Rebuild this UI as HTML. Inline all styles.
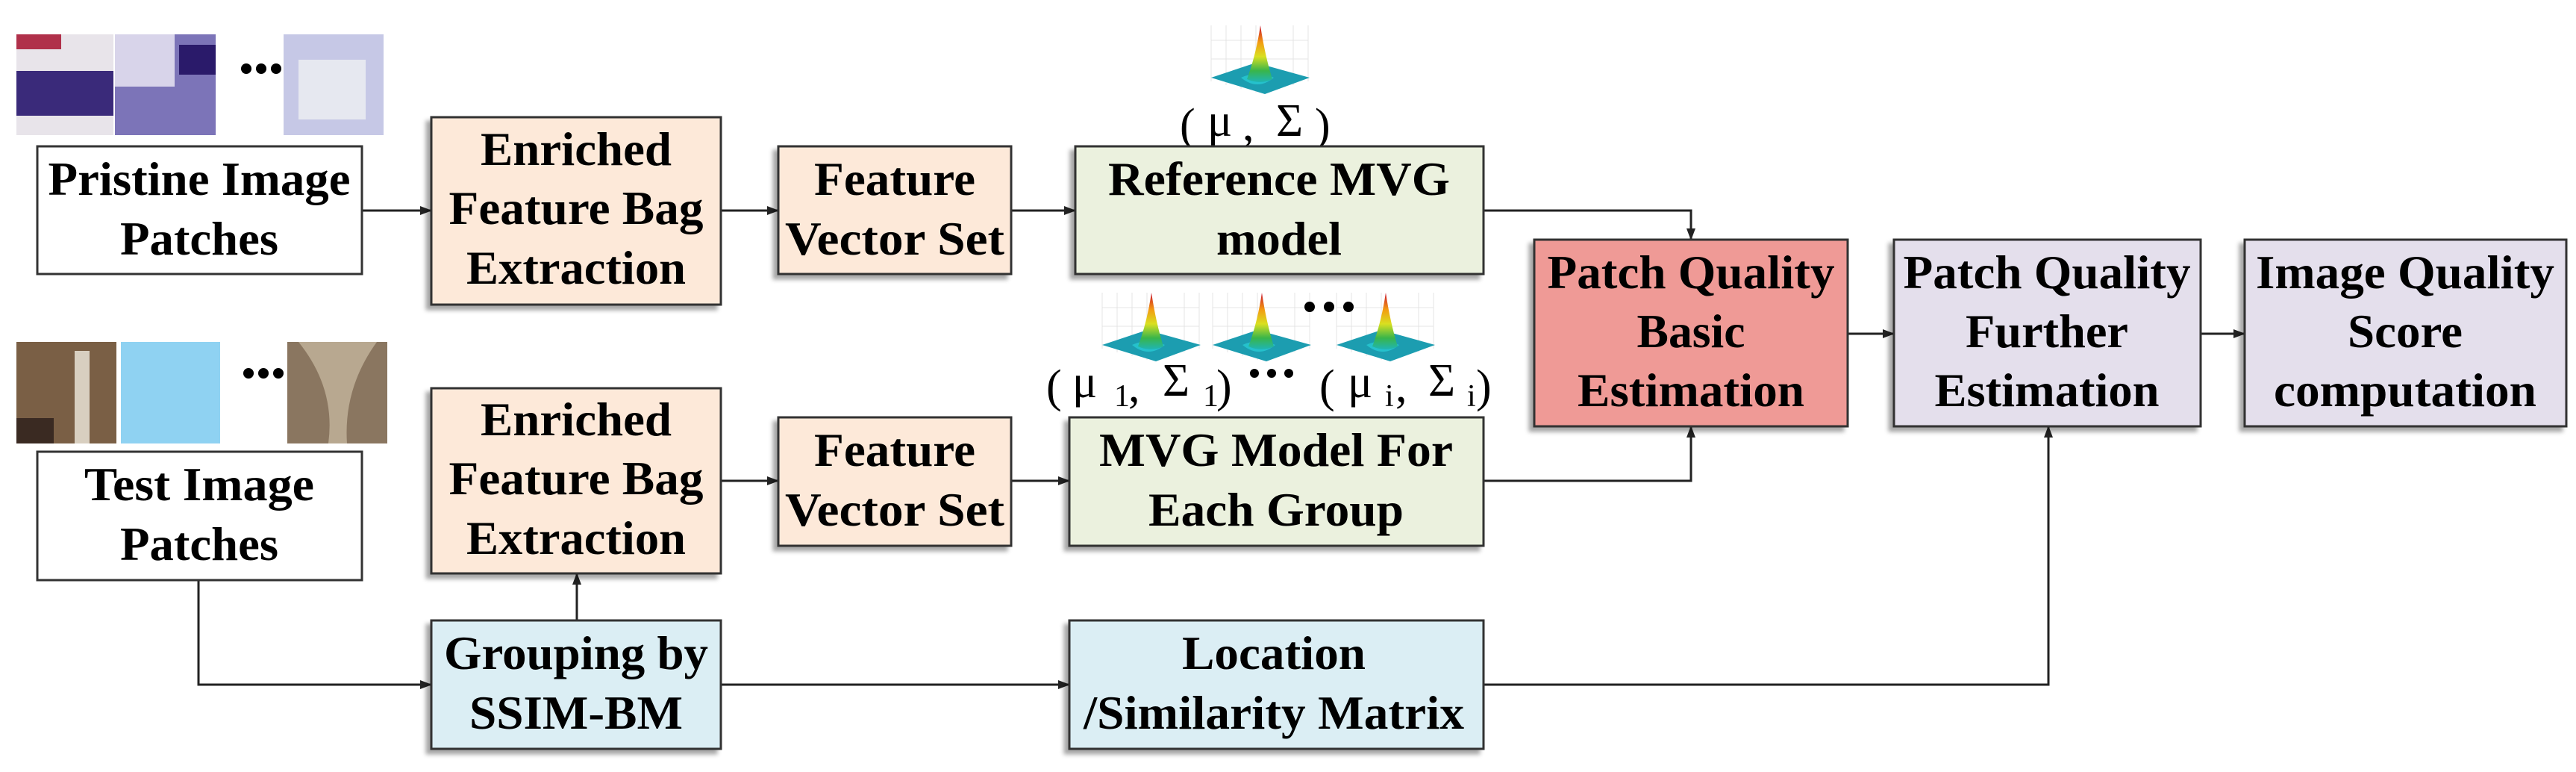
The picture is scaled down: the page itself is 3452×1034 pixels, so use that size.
<!DOCTYPE html>
<html><head><meta charset="utf-8"><style>
html,body{margin:0;padding:0;background:#fff;}
svg{display:block;}
.t{font-family:"Liberation Serif",serif;font-weight:bold;font-size:63px;fill:#000;}
.g{font-family:"Liberation Serif",serif;font-size:62px;fill:#000;}
.s{font-family:"Liberation Serif",serif;font-size:42px;fill:#000;}
</style></head><body>
<svg width="3452" height="1034" viewBox="0 0 3452 1034" xmlns="http://www.w3.org/2000/svg">
<defs>
<marker id="a" markerWidth="16" markerHeight="12" refX="15" refY="6" orient="auto" markerUnits="userSpaceOnUse"><path d="M0,0 L16,6 L0,12 z" fill="#222"/></marker>
<linearGradient id="pk" x1="0" y1="0" x2="0" y2="1"><stop offset="0" stop-color="#c8102e"/><stop offset="0.3" stop-color="#f39c12"/><stop offset="0.55" stop-color="#d9e021"/><stop offset="0.8" stop-color="#39b54a"/><stop offset="1" stop-color="#1fb5b5"/></linearGradient>
<g id="gs">
<g stroke="#e4e4e4" stroke-width="1" fill="none"><path d="M0,0 V75 M20,0 V80 M40,0 V85 M60,0 V90 M110,0 V80 M130,0 V75 M0,20 H130 M0,45 H130"/></g>
<path d="M0,70 L60,50 L132,70 L72,92 z" fill="#1c9db0"/>
<path d="M40,70 Q62,60 84,70 Q62,88 40,70z" fill="#2ad0d8" opacity="0.7"/>
<path d="M66,0 Q60,40 48,72 Q66,80 82,72 Q72,40 66,0z" fill="url(#pk)"/>
</g>
<filter id="sh" x="-5%" y="-5%" width="115%" height="115%"><feDropShadow dx="-6" dy="6" stdDeviation="3" flood-color="#000" flood-opacity="0.35"/></filter>
</defs>

<rect x="22" y="46" width="130" height="135" fill="#e8e4ea"/>
<rect x="22" y="95" width="130" height="60" fill="#3a2a7a"/>
<rect x="22" y="46" width="60" height="20" fill="#b0304a"/>
<rect x="154" y="46" width="135" height="135" fill="#7c74b8"/>
<rect x="154" y="46" width="80" height="70" fill="#d8d4ea"/>
<rect x="240" y="60" width="49" height="40" fill="#2a1a6a"/>
<circle cx="330" cy="92" r="7" fill="#000"/><circle cx="350" cy="92" r="7" fill="#000"/><circle cx="370" cy="92" r="7" fill="#000"/>
<rect x="380" y="46" width="134" height="135" fill="#c6c8e6"/>
<rect x="400" y="80" width="90" height="80" fill="#e6e8f0"/>
<rect x="22" y="458" width="134" height="136" fill="#7a5f45"/>
<rect x="100" y="470" width="20" height="124" fill="#d8cfc0"/>
<rect x="22" y="560" width="50" height="34" fill="#3a2a22"/>
<rect x="162" y="458" width="133" height="136" fill="#8fd2f2"/>
<circle cx="333" cy="500" r="7" fill="#000"/><circle cx="353" cy="500" r="7" fill="#000"/><circle cx="373" cy="500" r="7" fill="#000"/>
<rect x="385" y="458" width="134" height="136" fill="#8a7660"/>
<path d="M400,458 Q450,520 440,594 L465,594 Q460,520 505,458z" fill="#b8a890"/>

<use href="#gs" x="1623" y="34"/>
<use href="#gs" x="1477" y="392"/>
<use href="#gs" x="1625" y="392"/>
<use href="#gs" x="1791" y="392"/>
<circle cx="1755" cy="411" r="7" fill="#000"/><circle cx="1781" cy="411" r="7" fill="#000"/><circle cx="1807" cy="411" r="7" fill="#000"/>
<text class="g" x="1581" y="188">(</text><text class="g" x="1618" y="182">μ</text><text class="g" x="1665" y="188">,</text><text class="g" x="1710" y="182">Σ</text><text class="g" x="1762" y="188">)</text>
<text class="g" x="1402" y="538">(</text><text class="g" x="1437" y="532">μ</text><text class="s" x="1493" y="544">1</text><text class="g" x="1512" y="538">,</text><text class="g" x="1558" y="530">Σ</text><text class="s" x="1612" y="544">1</text><text class="g" x="1630" y="538">)</text>
<circle cx="1681" cy="500" r="6" fill="#000"/><circle cx="1704" cy="500" r="6" fill="#000"/><circle cx="1727" cy="500" r="6" fill="#000"/>
<text class="g" x="1768" y="538">(</text><text class="g" x="1806" y="532">μ</text><text class="s" x="1856" y="544">i</text><text class="g" x="1870" y="538">,</text><text class="g" x="1914" y="530">Σ</text><text class="s" x="1966" y="544">i</text><text class="g" x="1978" y="538">)</text>

<g stroke="#222" stroke-width="3" fill="none">
<line x1="485" y1="282" x2="578" y2="282" marker-end="url(#a)"/>
<line x1="966" y1="282" x2="1043" y2="282" marker-end="url(#a)"/>
<line x1="1355" y1="282" x2="1441" y2="282" marker-end="url(#a)"/>
<line x1="966" y1="644" x2="1043" y2="644" marker-end="url(#a)"/>
<line x1="1355" y1="644" x2="1433" y2="644" marker-end="url(#a)"/>
<polyline points="1988,282 2266,282 2266,321" marker-end="url(#a)"/>
<polyline points="1988,644 2266,644 2266,571" marker-end="url(#a)"/>
<polyline points="266,777 266,917 578,917" marker-end="url(#a)"/>
<line x1="773" y1="831" x2="773" y2="768" marker-end="url(#a)"/>
<line x1="966" y1="917" x2="1433" y2="917" marker-end="url(#a)"/>
<polyline points="1988,917 2745,917 2745,571" marker-end="url(#a)"/>
<line x1="2476" y1="447" x2="2538" y2="447" marker-end="url(#a)"/>
<line x1="2949" y1="447" x2="3008" y2="447" marker-end="url(#a)"/>
</g>

<g stroke="#333" stroke-width="3">
<rect x="50" y="196" width="435" height="171" fill="#fff"/>
<rect x="50" y="605" width="435" height="172" fill="#fff"/>
<g filter="url(#sh)">
<rect x="578" y="157" width="388" height="251" fill="#fde9d9"/>
<rect x="1043" y="196" width="312" height="171" fill="#fde9d9"/>
<rect x="1441" y="196" width="547" height="171" fill="#ebf1de"/>
<rect x="578" y="520" width="388" height="248" fill="#fde9d9"/>
<rect x="1043" y="559" width="312" height="172" fill="#fde9d9"/>
<rect x="1433" y="559" width="555" height="172" fill="#ebf1de"/>
<rect x="578" y="831" width="388" height="172" fill="#dbeef4"/>
<rect x="1433" y="831" width="555" height="172" fill="#dbeef4"/>
<rect x="2056" y="321" width="420" height="250" fill="#ef9a96"/>
<rect x="2538" y="321" width="411" height="250" fill="#e4dfec"/>
<rect x="3008" y="321" width="431" height="250" fill="#e4dfec"/>
</g>
</g>

<g class="t" text-anchor="middle">
<text x="267" y="261" textLength="405" lengthAdjust="spacingAndGlyphs">Pristine Image</text>
<text x="267" y="341" textLength="212" lengthAdjust="spacingAndGlyphs">Patches</text>
<text x="772" y="221" textLength="256" lengthAdjust="spacingAndGlyphs">Enriched</text>
<text x="772" y="300" textLength="341" lengthAdjust="spacingAndGlyphs">Feature Bag</text>
<text x="772" y="380" textLength="294" lengthAdjust="spacingAndGlyphs">Extraction</text>
<text x="1199" y="261" textLength="216" lengthAdjust="spacingAndGlyphs">Feature</text>
<text x="1199" y="341" textLength="294" lengthAdjust="spacingAndGlyphs">Vector Set</text>
<text x="1714" y="261" textLength="458" lengthAdjust="spacingAndGlyphs">Reference MVG</text>
<text x="1714" y="341" textLength="168" lengthAdjust="spacingAndGlyphs">model</text>

<text x="267" y="670" textLength="308" lengthAdjust="spacingAndGlyphs">Test Image</text>
<text x="267" y="750" textLength="212" lengthAdjust="spacingAndGlyphs">Patches</text>
<text x="772" y="583" textLength="256" lengthAdjust="spacingAndGlyphs">Enriched</text>
<text x="772" y="662" textLength="341" lengthAdjust="spacingAndGlyphs">Feature Bag</text>
<text x="772" y="742" textLength="294" lengthAdjust="spacingAndGlyphs">Extraction</text>
<text x="1199" y="624" textLength="216" lengthAdjust="spacingAndGlyphs">Feature</text>
<text x="1199" y="704" textLength="294" lengthAdjust="spacingAndGlyphs">Vector Set</text>
<text x="1710" y="624" textLength="474" lengthAdjust="spacingAndGlyphs">MVG Model For</text>
<text x="1710" y="704" textLength="342" lengthAdjust="spacingAndGlyphs">Each Group</text>

<text x="772" y="896" textLength="354" lengthAdjust="spacingAndGlyphs">Grouping by</text>
<text x="772" y="976" textLength="286" lengthAdjust="spacingAndGlyphs">SSIM-BM</text>
<text x="1707" y="896" textLength="246" lengthAdjust="spacingAndGlyphs">Location</text>
<text x="1707" y="976" textLength="510" lengthAdjust="spacingAndGlyphs">/Similarity Matrix</text>

<text x="2266" y="386" textLength="385" lengthAdjust="spacingAndGlyphs">Patch Quality</text>
<text x="2266" y="465" textLength="145" lengthAdjust="spacingAndGlyphs">Basic</text>
<text x="2266" y="544" textLength="304" lengthAdjust="spacingAndGlyphs">Estimation</text>
<text x="2743" y="386" textLength="385" lengthAdjust="spacingAndGlyphs">Patch Quality</text>
<text x="2743" y="465" textLength="218" lengthAdjust="spacingAndGlyphs">Further</text>
<text x="2743" y="544" textLength="301" lengthAdjust="spacingAndGlyphs">Estimation</text>
<text x="3223" y="386" textLength="400" lengthAdjust="spacingAndGlyphs">Image Quality</text>
<text x="3223" y="465" textLength="154" lengthAdjust="spacingAndGlyphs">Score</text>
<text x="3223" y="544" textLength="352" lengthAdjust="spacingAndGlyphs">computation</text>
</g>
</svg>
</body></html>
